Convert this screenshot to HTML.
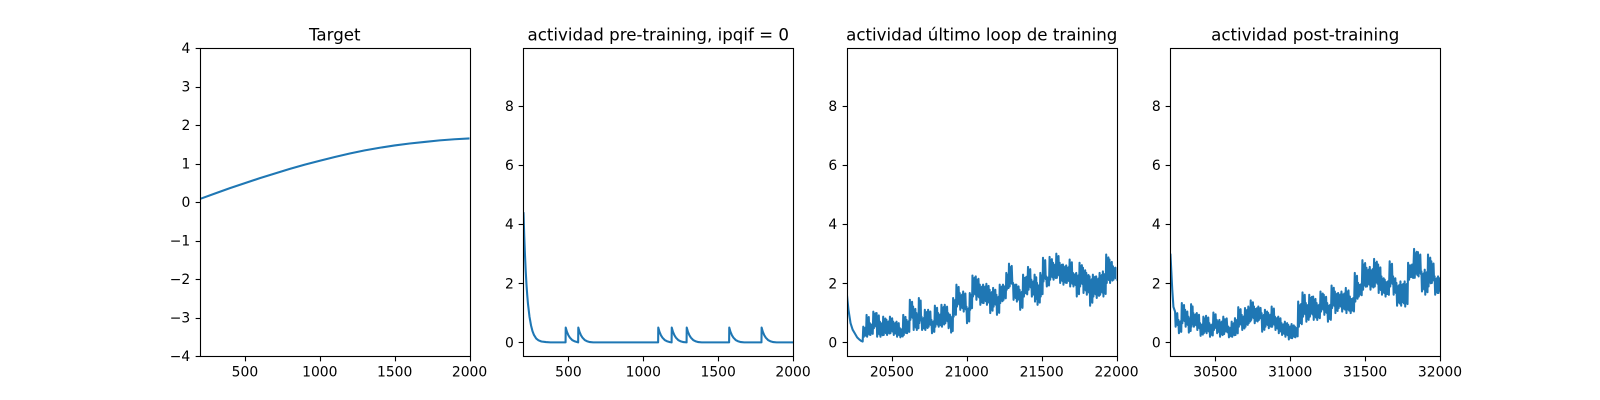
<!DOCTYPE html>
<html lang="es">
<head>
<meta charset="utf-8">
<title>Actividad</title>
<style>
html,body{margin:0;padding:0;background:#fff;width:1600px;height:400px;overflow:hidden}
svg{display:block}
text{font-family:"DejaVu Sans","Liberation Sans",sans-serif;fill:#000}
</style>
</head>
<body>
<svg id="fig" xmlns="http://www.w3.org/2000/svg" width="1600" height="400" viewBox="0 0 1600 400"></svg>
<script>
const targetTitle = "Target";
const pretrainTitle = "actividad pre-training, ipqif = 0";
const lastLoopTitle = "actividad último loop de training";
const postTitle = "actividad post-training";

const targetXTicks = [500, 1000, 1500, 2000];
const pretrainXTicks = [500, 1000, 1500, 2000];
const lastLoopXTicks = [20500, 21000, 21500, 22000];
const postXTicks = [30500, 31000, 31500, 32000];
const targetYTicks = [-4, -3, -2, -1, 0, 1, 2, 3, 4];
const activityYTicks = [0, 2, 4, 6, 8];

const targetTimes = [200,300,400,500,600,700,800,900,1000,1100,1200,1300,1400,1500,1600,1700,1800,1900,2000];
const targetValues = [0.08,0.22,0.36,0.49,0.62,0.74,0.86,0.97,1.07,1.17,1.26,1.34,1.41,1.47,1.52,1.56,1.60,1.63,1.65];

const pretrainTimes = [200,205,210,215,220,225,230,240,250,260,270,285,300,320,350,380,
481,482,490,500,510,525,540,560,
565,566,574,584,594,609,624,644,666,
1099,1100,1108,1118,1128,1143,1158,1178,1189,
1190,1198,1208,1218,1233,1248,1268,
1289,1290,1298,1308,1318,1333,1348,1368,1390,
1573,1574,1582,1592,1602,1617,1632,1652,1674,
1789,1790,1798,1808,1818,1833,1848,1868,1890,2000];
const pretrainValues = [4.4,3.6,2.95,2.4,1.95,1.6,1.3,0.87,0.58,0.38,0.25,0.13,0.07,0.03,0.01,0,
0,0.5,0.36,0.24,0.16,0.08,0.04,0.01,
0,0.5,0.36,0.24,0.16,0.08,0.04,0.01,0,
0,0.5,0.36,0.24,0.16,0.08,0.04,0.01,0,
0.5,0.36,0.24,0.16,0.08,0.04,0.01,
0,0.5,0.36,0.24,0.16,0.08,0.04,0.01,0,
0,0.5,0.36,0.24,0.16,0.08,0.04,0.01,0,
0,0.5,0.36,0.24,0.16,0.08,0.04,0.01,0,0];

const lastLoopDecayTimes = [20200,20210,20224,20238,20253,20268,20282,20295,20305];
const lastLoopDecayValues = [1.6,1.1,0.65,0.43,0.3,0.17,0.1,0.05,0.03];
const lastLoopTimes = [20309,20331,20353,20376,20398,20420,20442,20464,20487,20509,20531,20553,20576,20598,20620,20642,20664,20680,20698,20720,20742,20764,20787,20809,20831,20853,20876,20893,20909,20931,20953,20976,20998,21020,21038,21060,21087,21109,21131,21153,21176,21198,21220,21242,21264,21282,21309,21331,21353,21376,21409,21431,21453,21469,21491,21509,21531,21553,21576,21598,21620,21642,21664,21687,21709,21731,21753,21776,21798,21820,21842,21864,21887,21909,21931,21953,21976,22000];
const lastLoopPeaks = [0.53,0.93,0.65,1.04,0.99,0.70,0.87,0.76,0.87,0.70,0.70,0.48,0.93,0.76,1.44,1.21,0.99,1.50,0.87,1.10,1.10,0.76,1.24,0.99,1.27,1.27,0.99,0.87,1.50,1.95,1.67,1.72,1.21,1.67,2.26,2.23,1.95,1.95,1.98,1.78,1.84,1.61,1.95,1.95,2.35,2.66,2.01,1.95,1.78,2.29,2.55,2.12,2.29,2.01,2.35,2.86,2.23,2.89,2.69,3.00,2.69,2.63,2.60,2.80,2.35,2.35,2.69,2.52,2.35,2.23,2.29,2.23,2.35,2.40,2.97,2.80,2.57,2.50];
const lastLoopTroughs = [0.19,0.19,0.25,0.48,0.19,0.19,0.25,0.25,0.31,0.25,0.19,0.17,0.25,0.31,0.76,0.42,0.42,0.65,0.42,0.42,0.53,0.31,0.53,0.53,0.53,0.65,0.48,0.33,0.87,1.21,1.10,1.04,0.65,1.10,1.55,1.44,1.27,1.33,1.27,0.99,1.21,0.93,1.33,1.44,1.78,1.89,1.44,1.38,1.10,1.55,1.78,1.55,1.38,1.27,1.55,2.06,1.89,2.12,2.12,2.18,2.01,1.95,2.01,1.89,1.89,1.55,1.89,1.67,1.61,1.24,1.55,1.50,1.61,1.55,2.01,2.01,2.12,2.10];

const postDecayTimes = [30200,30206,30212,30220];
const postDecayValues = [3.0,2.4,1.8,1.2];
const postTimes = [30231,30253,30276,30298,30320,30338,30353,30376,30398,30420,30438,30460,30487,30509,30527,30553,30587,30609,30631,30653,30676,30698,30720,30736,30758,30787,30809,30831,30853,30876,30898,30920,30942,30964,30987,31009,31031,31053,31082,31104,31127,31153,31176,31202,31224,31247,31276,31298,31320,31342,31371,31398,31431,31453,31482,31509,31531,31560,31587,31609,31631,31664,31687,31709,31736,31764,31787,31827,31853,31876,31898,31920,31942,31964,31987,32009];
const postPeaks = [1.04,0.76,1.33,1.10,0.87,1.29,0.99,0.99,0.65,0.87,0.90,0.65,1.01,0.76,0.76,0.87,0.53,0.70,0.82,1.19,0.93,1.16,1.21,1.42,1.21,1.21,0.99,1.10,0.99,1.21,0.87,0.87,0.65,0.70,0.59,0.62,0.53,1.38,1.69,1.33,1.61,1.55,1.33,1.72,1.61,1.33,1.92,1.72,1.67,1.72,1.84,1.55,2.35,2.01,2.78,2.52,2.55,2.82,2.63,2.23,2.12,2.74,2.23,2.01,2.06,2.06,2.69,3.16,3.05,2.40,2.46,2.97,2.74,2.23,2.23,2.29];
const postTroughs = [0.53,0.31,0.65,0.53,0.33,0.53,0.53,0.42,0.22,0.31,0.31,0.19,0.42,0.31,0.19,0.28,0.17,0.19,0.25,0.53,0.42,0.53,0.65,0.76,0.65,0.76,0.36,0.53,0.48,0.53,0.42,0.31,0.25,0.19,0.10,0.14,0.17,0.53,0.87,0.70,0.87,0.76,0.76,1.04,0.93,0.70,1.16,0.99,1.16,1.04,0.99,0.99,1.38,1.55,1.78,1.89,1.78,1.89,1.67,1.61,1.55,1.89,1.61,1.24,1.24,1.21,2.12,2.18,2.23,1.72,1.61,1.89,2.01,1.61,1.67,1.72];

const SVG_NS = "http://www.w3.org/2000/svg";
const fig = document.getElementById("fig");
const LINE_COLOR = "#1f77b4";
const AXES_TOP = 48, AXES_BOTTOM = 356, AXES_WIDTH = 269.57;

function make(parent, tag, attrs, content) {
  const el = document.createElementNS(SVG_NS, tag);
  for (const k in attrs) el.setAttribute(k, attrs[k]);
  if (content !== undefined) el.textContent = content;
  parent.appendChild(el);
  return el;
}
function zigzag(times, peaks, troughs) {
  const out = [];
  times.forEach(function (t, i) {
    const next = i + 1 < times.length ? times[i + 1] : t + 20;
    const gap = next - t;
    const hi = peaks[i], lo = troughs[i];
    out.push([t, hi]);
    out.push([t + gap / 6, lo]);
    out.push([t + gap * 2 / 6, hi * 0.85 + lo * 0.15]);
    out.push([t + gap * 3 / 6, lo * 0.85 + hi * 0.15]);
    out.push([t + gap * 4 / 6, hi * 0.9 + lo * 0.1]);
    out.push([t + gap * 5 / 6, lo * 0.9 + hi * 0.1]);
  });
  return out;
}
function pairs(times, values) {
  return times.map(function (t, i) { return [t, values[i]]; });
}

function drawPanel(key, left, title, xMin, xMax, yMin, yMax, xTicks, yTicks, points) {
  const right = left + AXES_WIDTH;
  const xScale = function (v) { return left + (v - xMin) / (xMax - xMin) * AXES_WIDTH; };
  const yScale = function (v) { return AXES_BOTTOM - (v - yMin) / (yMax - yMin) * (AXES_BOTTOM - AXES_TOP); };
  const snap = function (v) { return Math.round(v) + 0.5; };

  const g = make(fig, "g", {});
  
  

  const clip = make(g, "clipPath", { id: "clip-" + key });
  make(clip, "rect", { x: left, y: AXES_TOP, width: AXES_WIDTH, height: AXES_BOTTOM - AXES_TOP });

  const d = points.map(function (p, i) {
    return (i ? "L" : "M") + xScale(p[0]).toFixed(2) + " " + yScale(p[1]).toFixed(2);
  }).join("");
  const line = make(g, "path", { d: d, fill: "none", stroke: LINE_COLOR, "stroke-width": 2.08, "stroke-linejoin": "round", "stroke-linecap": "butt", "clip-path": "url(#clip-" + key + ")" });
  
  

  const frame = make(g, "rect", { x: snap(left), y: snap(AXES_TOP), width: snap(right) - snap(left), height: snap(AXES_BOTTOM) - snap(AXES_TOP), fill: "none", stroke: "#000", "stroke-width": 1.11 });
  
  

  xTicks.forEach(function (v) {
    const x = snap(xScale(v));
    const tick = make(g, "line", { x1: x, x2: x, y1: snap(AXES_BOTTOM), y2: snap(AXES_BOTTOM) + 4.86, stroke: "#000", "stroke-width": 1.11 });
    
    
    const label = make(g, "text", { x: xScale(v), y: 376.4, "font-size": 13.89, "text-anchor": "middle" }, String(v));
    
    
  });
  yTicks.forEach(function (v) {
    const y = snap(yScale(v));
    const tick = make(g, "line", { x1: snap(left), x2: snap(left) - 4.86, y1: y, y2: y, stroke: "#000", "stroke-width": 1.11 });
    
    
    const label = make(g, "text", { x: left - 9.72, y: yScale(v) + 5.06, "font-size": 13.89, "text-anchor": "end" }, String(v).replace("-", "\u2212"));
    
    
  });
  const t = make(g, "text", { x: left + AXES_WIDTH / 2, y: 40.5, "font-size": 16.67, "text-anchor": "middle" }, title);
  
  
}

const activityYMin = -0.46, activityYMax = 9.95;
drawPanel("target", 200, targetTitle, 200, 2000, -4, 4, targetXTicks, targetYTicks, pairs(targetTimes, targetValues));
drawPanel("pretraining", 523.49, pretrainTitle, 200, 2000, activityYMin, activityYMax, pretrainXTicks, activityYTicks, pairs(pretrainTimes, pretrainValues));
drawPanel("last-loop", 846.96, lastLoopTitle, 20200, 22000, activityYMin, activityYMax, lastLoopXTicks, activityYTicks, pairs(lastLoopDecayTimes, lastLoopDecayValues).concat(zigzag(lastLoopTimes, lastLoopPeaks, lastLoopTroughs)));
drawPanel("post-training", 1170.43, postTitle, 30200, 32000, activityYMin, activityYMax, postXTicks, activityYTicks, pairs(postDecayTimes, postDecayValues).concat(zigzag(postTimes, postPeaks, postTroughs)));
</script>
</body>
</html>
